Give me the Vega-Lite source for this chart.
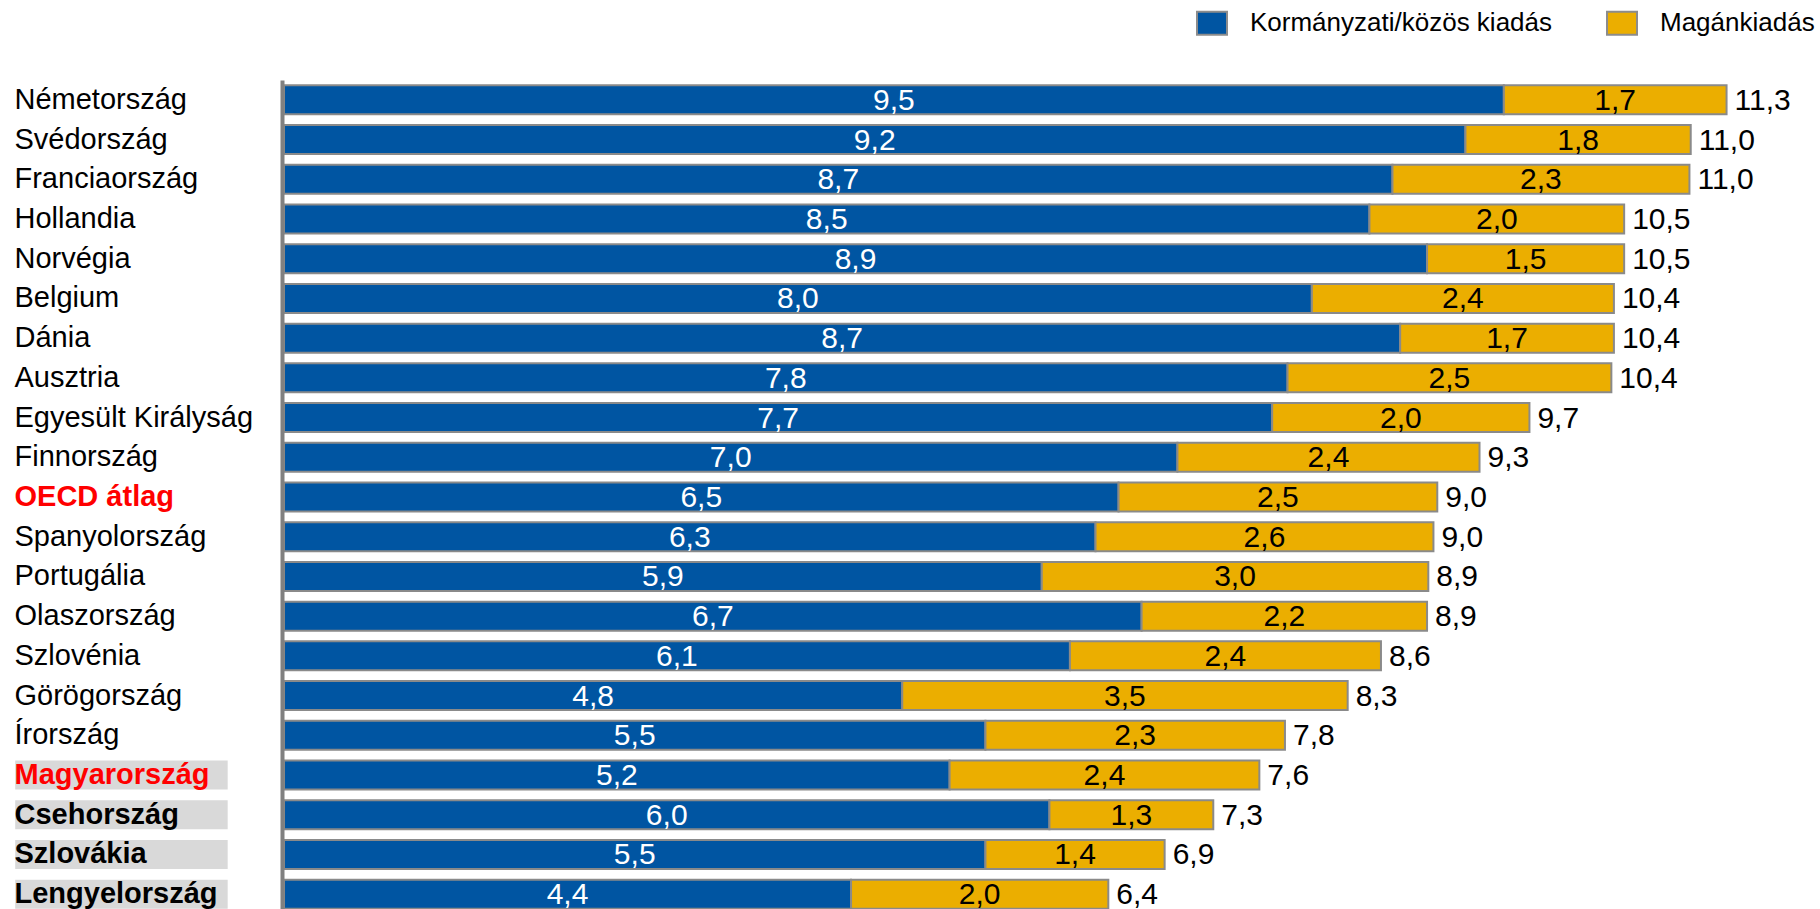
{
  "$schema": "https://vega.github.io/schema/vega-lite/v6.json",
  "width": 1536,
  "height": 834,
  "autosize": {"type": "none"},
  "padding": {"left": 284, "top": 80, "right": 0, "bottom": 0},
  "background": "white",
  "config": {
    "view": {"stroke": null},
    "font": "Liberation Sans",
    "locale": {"number": {"decimal": ",", "thousands": " ", "grouping": [3], "currency": ["", ""]}}
  },
  "data": {
    "values": [
      {"orszag": "Németország", "Kormányzati/közös kiadás": 9.53, "Magánkiadás": 1.74, "osszesen": 11.27},
      {"orszag": "Svédország", "Kormányzati/közös kiadás": 9.23, "Magánkiadás": 1.76, "osszesen": 10.99},
      {"orszag": "Franciaország", "Kormányzati/közös kiadás": 8.66, "Magánkiadás": 2.32, "osszesen": 10.98},
      {"orszag": "Hollandia", "Kormányzati/közös kiadás": 8.48, "Magánkiadás": 1.99, "osszesen": 10.47},
      {"orszag": "Norvégia", "Kormányzati/közös kiadás": 8.93, "Magánkiadás": 1.54, "osszesen": 10.47},
      {"orszag": "Belgium", "Kormányzati/közös kiadás": 8.03, "Magánkiadás": 2.36, "osszesen": 10.39},
      {"orszag": "Dánia", "Kormányzati/közös kiadás": 8.72, "Magánkiadás": 1.67, "osszesen": 10.39},
      {"orszag": "Ausztria", "Kormányzati/közös kiadás": 7.84, "Magánkiadás": 2.53, "osszesen": 10.37},
      {"orszag": "Egyesült Királyság", "Kormányzati/közös kiadás": 7.72, "Magánkiadás": 2.01, "osszesen": 9.73},
      {"orszag": "Finnország", "Kormányzati/közös kiadás": 6.98, "Magánkiadás": 2.36, "osszesen": 9.34},
      {"orszag": "OECD átlag", "Kormányzati/közös kiadás": 6.52, "Magánkiadás": 2.49, "osszesen": 9.01},
      {"orszag": "Spanyolország", "Kormányzati/közös kiadás": 6.34, "Magánkiadás": 2.64, "osszesen": 8.98},
      {"orszag": "Portugália", "Kormányzati/közös kiadás": 5.92, "Magánkiadás": 3.02, "osszesen": 8.94},
      {"orszag": "Olaszország", "Kormányzati/közös kiadás": 6.70, "Magánkiadás": 2.23, "osszesen": 8.93},
      {"orszag": "Szlovénia", "Kormányzati/közös kiadás": 6.14, "Magánkiadás": 2.43, "osszesen": 8.57},
      {"orszag": "Görögország", "Kormányzati/közös kiadás": 4.83, "Magánkiadás": 3.48, "osszesen": 8.31},
      {"orszag": "Írország", "Kormányzati/közös kiadás": 5.48, "Magánkiadás": 2.34, "osszesen": 7.82},
      {"orszag": "Magyarország", "Kormányzati/közös kiadás": 5.20, "Magánkiadás": 2.42, "osszesen": 7.62},
      {"orszag": "Csehország", "Kormányzati/közös kiadás": 5.98, "Magánkiadás": 1.28, "osszesen": 7.26},
      {"orszag": "Szlovákia", "Kormányzati/közös kiadás": 5.48, "Magánkiadás": 1.40, "osszesen": 6.88},
      {"orszag": "Lengyelország", "Kormányzati/közös kiadás": 4.43, "Magánkiadás": 2.01, "osszesen": 6.44}
    ]
  },
  "encoding": {
    "y": {
      "field": "orszag",
      "type": "nominal",
      "scale": {
        "domain": ["Németország", "Svédország", "Franciaország", "Hollandia", "Norvégia", "Belgium", "Dánia", "Ausztria", "Egyesült Királyság", "Finnország", "OECD átlag", "Spanyolország", "Portugália", "Olaszország", "Szlovénia", "Görögország", "Írország", "Magyarország", "Csehország", "Szlovákia", "Lengyelország"],
        "paddingInner": 0.27,
        "paddingOuter": 0.135
      },
      "axis": {
        "title": null,
        "orient": "left",
        "offset": 2,
        "zindex": 1,
        "domain": true,
        "domainColor": "#808080",
        "domainWidth": 4,
        "ticks": false,
        "grid": false,
        "labelAlign": "left",
        "labelBaseline": "middle",
        "labelPadding": 268,
        "labelLimit": 400,
        "labelFont": "Liberation Sans",
        "labelFontSize": 29,
        "labelColor": {"condition": {"test": "datum.value === 'OECD átlag' || datum.value === 'Magyarország'", "value": "#ff0000"}, "value": "#000000"},
        "labelFontWeight": {"condition": {"test": "indexof(['OECD átlag','Magyarország','Csehország','Szlovákia','Lengyelország'], datum.value) >= 0", "value": "bold"}, "value": "normal"}
      }
    }
  },
  "layer": [
    {
      "transform": [{"filter": {"field": "orszag", "oneOf": ["Magyarország", "Csehország", "Szlovákia", "Lengyelország"]}}],
      "mark": {"type": "bar", "color": "#d9d9d9"},
      "encoding": {
        "x": {"datum": -2.1, "type": "quantitative", "scale": {"domain": [0, 12], "nice": false, "zero": false}, "axis": null},
        "x2": {"datum": -0.44}
      }
    },
    {
      "transform": [{"fold": ["Kormányzati/közös kiadás", "Magánkiadás"], "as": ["tipus", "ertek"]}],
      "mark": {"type": "bar", "stroke": "#8a8a8a", "strokeWidth": 2},
      "encoding": {
        "x": {"field": "ertek", "type": "quantitative", "stack": "zero", "scale": {"domain": [0, 12], "nice": false, "zero": false}, "axis": null},
        "color": {
          "field": "tipus",
          "type": "nominal",
          "scale": {"domain": ["Kormányzati/közös kiadás", "Magánkiadás"], "range": ["#0055a2", "#ebae00"]},
          "legend": {
            "title": null,
            "orient": "none",
            "legendX": 912,
            "legendY": -73,
            "direction": "horizontal",
            "padding": 0,
            "symbolType": "M-1,-0.77H1V0.77H-1Z",
            "symbolSize": 900,
            "symbolStrokeColor": "#8c8c8c",
            "symbolStrokeWidth": 2,
            "labelFont": "Liberation Sans",
            "labelFontSize": 26,
            "labelColor": "#000000",
            "labelOffset": 22,
            "labelLimit": 500,
            "columnPadding": 50
          }
        },
        "order": {"field": "tipus", "type": "nominal", "sort": "ascending"}
      }
    },
    {
      "transform": [{"fold": ["Kormányzati/közös kiadás", "Magánkiadás"], "as": ["tipus", "ertek"]}],
      "mark": {"type": "text", "font": "Liberation Sans", "fontSize": 30, "baseline": "middle", "align": "center", "dy": 1},
      "encoding": {
        "x": {"field": "ertek", "type": "quantitative", "stack": "zero", "bandPosition": 0.5},
        "detail": {"field": "tipus", "type": "nominal"},
        "order": {"field": "tipus", "type": "nominal", "sort": "ascending"},
        "text": {"field": "ertek", "type": "quantitative", "format": ".1f"},
        "color": {"condition": {"test": "datum.tipus === 'Kormányzati/közös kiadás'", "value": "#ffffff"}, "value": "#000000"}
      }
    },
    {
      "mark": {"type": "text", "font": "Liberation Sans", "fontSize": 30, "baseline": "middle", "align": "left", "dx": 8, "dy": 1, "color": "#000000"},
      "encoding": {
        "x": {"field": "osszesen", "type": "quantitative"},
        "text": {"field": "osszesen", "type": "quantitative", "format": ".1f"}
      }
    }
  ]
}
